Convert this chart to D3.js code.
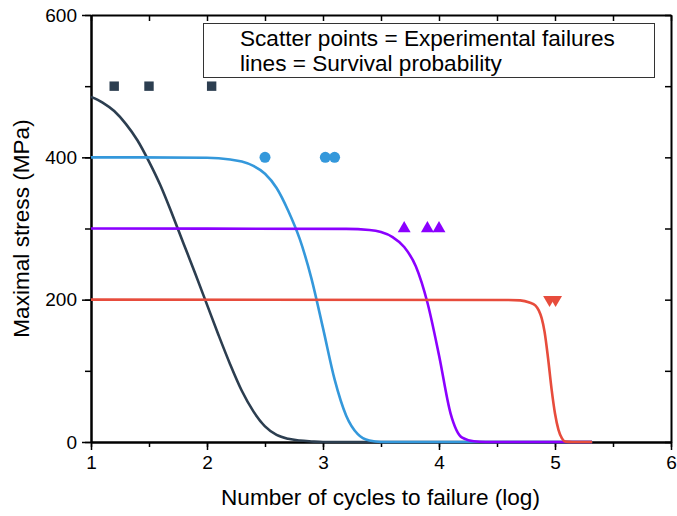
<!DOCTYPE html>
<html><head><meta charset="utf-8">
<script src="https://cdn.jsdelivr.net/npm/d3@7"></script>
<style>body{margin:0;background:#fff}svg{display:block;font-family:"Liberation Sans",Arial,sans-serif}</style>
</head><body>
<script>
// ---- data ----
const xTicks = [1, 2, 3, 4, 5, 6];
const yTicks = [0, 200, 400, 600];

const squareX = [1.2, 1.5, 2.04];
const squareY = [500, 500, 500];
const circleX = [2.5, 3.02, 3.1];
const circleY = [400, 400, 400];
const triUpX = [3.7, 3.9, 4.0];
const triUpY = [300, 300, 300];
const triDownX = [4.953, 5.005];
const triDownY = [200, 200];

const navyLX = [1.0, 1.1, 1.2, 1.3, 1.4, 1.5, 1.6, 1.7, 1.8, 1.9, 2.0, 2.1, 2.2, 2.3, 2.4, 2.5, 2.6, 2.7, 2.8, 2.9, 3.0, 5.32];
const navyLY = [485, 477, 465, 447, 424, 394, 360, 320, 278, 236, 193, 150, 109, 72, 43, 22, 10, 4.5, 2, 0.8, 0, 0];
const blueLX = [1.0, 2.0, 2.2, 2.3, 2.4, 2.5, 2.6, 2.7, 2.8, 2.9, 3.0, 3.1, 3.2, 3.3, 3.4, 3.5, 5.32];
const blueLY = [400, 399.5, 397, 394, 388, 377, 357, 325, 285, 230, 160, 88, 37, 11, 2, 0, 0];
const purpleLX = [1.0, 3.2, 3.4, 3.5, 3.6, 3.7, 3.8, 3.9, 4.0, 4.1, 4.2, 4.3, 4.4, 5.32];
const purpleLY = [300, 299.5, 298, 295, 288, 274, 247, 196, 122, 40, 6, 1, 0, 0];
const redLX = [1.0, 4.6, 4.7, 4.78, 4.83, 4.86, 4.885, 4.91, 4.94, 4.97, 5.0, 5.03, 5.06, 5.09, 5.15, 5.32];
const redLY = [200, 199.5, 199, 196, 192, 185, 174, 155, 118, 75, 40, 17, 5, 0.5, 0, 0];

const colNavy = "#2c3e50", colBlue = "#3498db", colPurple = "#8b00ff", colRed = "#e74c3c";

// ---- layout ----
const W = 677, H = 516;
const m = {l: 91, r: 6, t: 15, b: 74};
const iw = W - m.l - m.r, ih = H - m.t - m.b;

const svg = d3.select("body").append("svg").attr("width", W).attr("height", H);
const g = svg.append("g").attr("transform", `translate(${m.l},${m.t})`);

const x = d3.scaleLinear().domain([1, 6]).range([0, iw]);
const y = d3.scaleLinear().domain([0, 600]).range([ih, 0]);

const zip = (a, b) => a.map((v, i) => [v, b[i]]);
const line = d3.line().x(d => x(d[0])).y(d => y(d[1])).curve(d3.curveMonotoneX);
const series = [[navyLX, navyLY, colNavy], [blueLX, blueLY, colBlue], [purpleLX, purpleLY, colPurple], [redLX, redLY, colRed]];

function styleAxis(sel) {
  sel.select(".domain").attr("stroke", "#000").attr("stroke-width", 2);
  sel.selectAll(".tick line").attr("stroke", "#000").attr("stroke-width", 1.5);
  sel.selectAll("text").attr("font-size", 19).attr("fill", "#000")
     .attr("font-family", "Liberation Sans, Arial, sans-serif");
}
const xMinor = d3.range(1, 6.01, 0.5);
const yMinor = d3.range(0, 601, 100);

g.append("g").attr("transform", `translate(0,${ih})`)
  .call(d3.axisBottom(x).tickValues(xMinor).tickSize(5).tickFormat("").tickSizeOuter(0))
  .call(styleAxis);
g.append("g").attr("transform", `translate(0,${ih})`)
  .call(d3.axisBottom(x).tickValues(xTicks).tickSize(8).tickSizeOuter(0).tickPadding(6).tickFormat(d3.format("d")))
  .call(styleAxis);
g.append("g").call(d3.axisLeft(y).tickValues(yMinor).tickSize(6).tickFormat("").tickSizeOuter(0)).call(styleAxis);
g.append("g").call(d3.axisLeft(y).tickValues(yTicks).tickSize(9).tickSizeOuter(0).tickPadding(5).tickFormat(d3.format("d"))).call(styleAxis);
g.append("g").call(d3.axisTop(x).tickValues(xMinor).tickSize(-6).tickFormat("").tickSizeOuter(0)).call(styleAxis);
g.append("g").attr("transform", `translate(${iw},0)`)
  .call(d3.axisRight(y).tickValues(yMinor).tickSize(-6).tickFormat("").tickSizeOuter(0)).call(styleAxis);

series.forEach(([xs, ys, c]) => {
  g.append("path").datum(zip(xs, ys)).attr("d", line)
    .attr("fill", "none").attr("stroke", c).attr("stroke-width", 2.6);
});

g.selectAll(".sq").data(zip(squareX, squareY)).join("rect")
  .attr("x", d => x(d[0]) - 4.7).attr("y", d => y(d[1]) - 4.7)
  .attr("width", 9.4).attr("height", 9.4).attr("fill", colNavy);
g.selectAll(".ci").data(zip(circleX, circleY)).join("circle")
  .attr("cx", d => x(d[0])).attr("cy", d => y(d[1])).attr("r", 5.5).attr("fill", colBlue);
const tri = d3.symbol().type(d3.symbolTriangle).size(72);
g.selectAll(".tu").data(zip(triUpX, triUpY)).join("path")
  .attr("d", tri).attr("transform", d => `translate(${x(d[0])},${y(d[1])})`).attr("fill", colPurple);
g.selectAll(".td").data(zip(triDownX, triDownY)).join("path")
  .attr("d", tri).attr("transform", d => `translate(${x(d[0])},${y(d[1])}) rotate(180)`).attr("fill", colRed);

const lg = svg.append("g");
lg.append("rect").attr("x", 203.5).attr("y", 23.5).attr("width", 451).attr("height", 54)
  .attr("fill", "#fff").attr("stroke", "#333").attr("stroke-width", 1);
lg.append("text").attr("x", 240).attr("y", 46).attr("font-size", 22.6).text("Scatter points = Experimental failures");
lg.append("text").attr("x", 240).attr("y", 71).attr("font-size", 22.6).text("lines = Survival probability");

svg.append("text").attr("x", m.l + iw / 2 - 0.5).attr("y", 505).attr("text-anchor", "middle")
  .attr("font-size", 22.6).text("Number of cycles to failure (log)");
svg.append("text").attr("transform", `translate(29,${m.t + ih / 2}) rotate(-90)`).attr("text-anchor", "middle")
  .attr("font-size", 22.6).text("Maximal stress (MPa)");
</script>
</body></html>
